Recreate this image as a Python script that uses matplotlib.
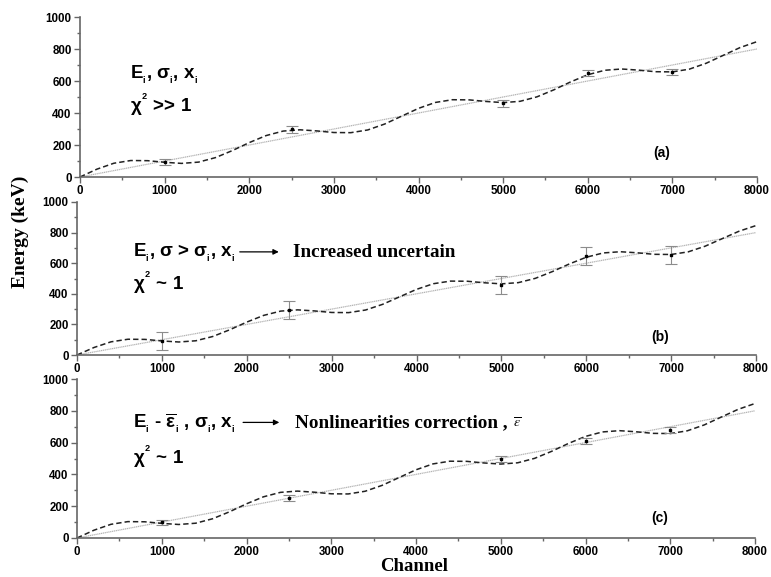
import numpy as np
import matplotlib
matplotlib.use("Agg")
import matplotlib.pyplot as plt
from matplotlib.ticker import MultipleLocator
from matplotlib.font_manager import FontProperties

plt.rcParams['mathtext.fontset'] = 'custom'
plt.rcParams['mathtext.rm'] = 'Liberation Sans:bold'
plt.rcParams['mathtext.it'] = 'Liberation Sans:bold'
plt.rcParams['mathtext.bf'] = 'Liberation Sans:bold'
plt.rcParams['mathtext.sf'] = 'Liberation Sans:bold'

# linear calibration line (end points)
lin_ch = [0, 8000]
lin_e = [0, 800]

# nonlinear calibration curve, read every 200 channels
curve_ch = list(range(0, 8001, 200))
curve_e = [0, 49, 86, 103, 102, 92, 85, 93, 121, 165,
           215, 259, 287, 295, 288, 278, 277, 294, 331, 380,
           429, 466, 483, 482, 472, 465, 473, 501, 545, 595,
           639, 667, 675, 668, 658, 657, 674, 711, 760, 809, 846]

# calibration points
pt_ch = [1000, 2500, 5000, 6000, 7000]
pt_e_a = [92, 298, 460, 650, 655]
err_a = [20, 20, 20, 20, 20]
pt_e_b = [90, 294, 457, 646, 652]
err_b = [60, 60, 60, 60, 60]
pt_e_c = [98, 253, 497, 612, 681]
err_c = [18, 18, 20, 18, 18]

panel_labels = ['(a)', '(b)', '(c)']
label_y = [152, 117, 124]

W, H = 771, 577
fig = plt.figure(figsize=(W / 100, H / 100), dpi=100)

def px_rect(x0, y_top, x1, y_bot):
    return [x0 / W, 1 - y_bot / H, (x1 - x0) / W, (y_bot - y_top) / H]

rects = [px_rect(80, 17, 757, 177),
         px_rect(77, 202, 756, 355),
         px_rect(77, 379, 755, 538)]

tick_font = FontProperties(family='Liberation Sans', weight='bold', size=8.3)
sans = dict(family='Liberation Sans', weight='bold', size=13.5)
serif = dict(family='Liberation Serif', weight='bold', size=13.8)

axes = []
for r, pe, er, lab, ly in zip(rects, [pt_e_a, pt_e_b, pt_e_c],
                              [err_a, err_b, err_c], panel_labels, label_y):
    ax = fig.add_axes(r)
    ax.plot(lin_ch, lin_e, color='#b4b4b4', lw=0.9, ls=(0, (1, 0.5)))
    ax.plot(curve_ch, curve_e, color='#222222', lw=1.1, ls=(0, (3.5, 2)))
    ax.errorbar(pt_ch, pe, yerr=er, fmt='s', color='black', ms=2,
                ecolor='#8c8c8c', elinewidth=0.8, capsize=4, capthick=0.8)
    ax.set_xlim(0, 8000)
    ax.set_ylim(0, 1000)
    ax.xaxis.set_major_locator(MultipleLocator(1000))
    ax.xaxis.set_minor_locator(MultipleLocator(500))
    ax.yaxis.set_major_locator(MultipleLocator(200))
    ax.yaxis.set_minor_locator(MultipleLocator(100))
    for s in ['top', 'right']:
        ax.spines[s].set_visible(False)
    for s in ['left', 'bottom']:
        ax.spines[s].set_color('#666666')
        ax.spines[s].set_linewidth(1.2)
    ax.tick_params(which='major', direction='out', length=4, width=1, color='#666666', pad=2)
    ax.tick_params(which='minor', direction='out', length=2.5, width=1, color='#666666')
    for t in ax.get_xticklabels() + ax.get_yticklabels():
        t.set_fontproperties(tick_font)
    ax.text(6770, ly, lab, ha='left', va='center',
            family='Liberation Sans', weight='bold', size=10)
    axes.append(ax)

ax_a, ax_b, ax_c = axes
arrow = dict(arrowstyle='-|>', color='black', lw=0.9, mutation_scale=8)

# small, low subscript "i" and small raised "2"
sub_i = r'_{_\mathrm{i}}'
chi2 = r'$\chi^{^2}$'

# panel (a)
ax_a.text(590, 612, rf'$\mathrm{{E}}{sub_i}$, $\sigma{sub_i}$, $\mathrm{{x}}{sub_i}$',
          ha='left', va='baseline', **sans)
ax_a.text(590, 408, chi2 + ' >> 1', ha='left', va='baseline', **sans)

# panel (b)
ax_b.text(656, 641, rf'$\mathrm{{E}}{sub_i}$, $\sigma$ > $\sigma{sub_i}$, $\mathrm{{x}}{sub_i}$',
          ha='left', va='baseline', **sans)
ax_b.text(656, 424, chi2 + ' ~ 1', ha='left', va='baseline', **sans)
ax_b.annotate('', xy=(2410, 674), xytext=(1885, 674), arrowprops=arrow)
ax_b.text(2550, 641, 'Increased uncertain', ha='left', va='baseline', **serif)

# panel (c)
ax_c.text(665, 694, rf'$\mathrm{{E}}{sub_i}$ - $\overline{{\varepsilon}}{sub_i}$ , $\sigma{sub_i}$, $\mathrm{{x}}{sub_i}$',
          ha='left', va='baseline', **sans)
ax_c.text(665, 465, chi2 + ' ~ 1', ha='left', va='baseline', **sans)
ax_c.annotate('', xy=(2420, 727), xytext=(1927, 727), arrowprops=arrow)
ax_c.text(2577, 694, 'Nonlinearities correction ,', ha='left', va='baseline', **serif)
ax_c.text(5150, 694, r'$\overline{\varepsilon}$', ha='left', va='baseline',
          size=10, math_fontfamily='stix')

fig.text(20 / W, 1 - 232 / H, 'Energy (keV)', rotation=90, ha='center', va='center',
         family='Liberation Serif', weight='bold', size=14)
fig.text(414 / W, 1 - 571 / H, 'Channel', ha='center', va='baseline',
         family='Liberation Serif', weight='bold', size=13.5)

fig.savefig('out.png', dpi=100)
